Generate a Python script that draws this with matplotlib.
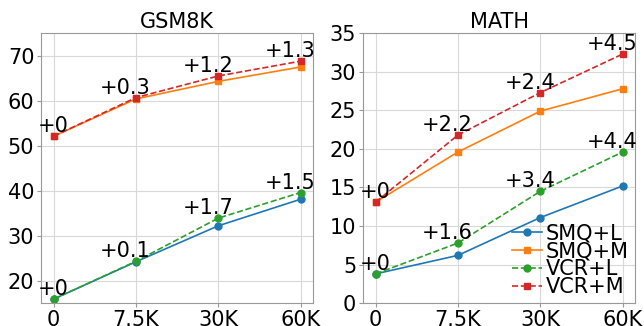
import numpy as np
import matplotlib.pyplot as plt

x_labels = ["0", "7.5K", "30K", "60K"]

gsm_smq_l = [15.9, 24.2, 32.2, 38.1]
gsm_smq_m = [52.1, 60.4, 64.3, 67.5]
gsm_vcr_l = [15.9, 24.3, 33.9, 39.6]
gsm_vcr_m = [52.1, 60.7, 65.5, 68.8]

math_smq_l = [3.8, 6.2, 11.1, 15.2]
math_smq_m = [13.1, 19.6, 24.9, 27.8]
math_vcr_l = [3.8, 7.8, 14.5, 19.6]
math_vcr_m = [13.1, 21.8, 27.3, 32.3]

gsm_gain_l = ["+0", "+0.1", "+1.7", "+1.5"]
gsm_gain_m = ["+0", "+0.3", "+1.2", "+1.3"]
math_gain_l = ["+0", "+1.6", "+3.4", "+4.4"]
math_gain_m = ["+0", "+2.2", "+2.4", "+4.5"]

fs = 15
plt.rcParams['font.size'] = fs

fig, (ax1, ax2) = plt.subplots(1, 2, figsize=(6.44, 3.26), dpi=100)
xs = np.arange(len(x_labels))

def panel(ax, title, smq_l, smq_m, vcr_l, vcr_m, gain_l, gain_m, ylim):
	ax.plot(xs, smq_l, '-o', color='tab:blue', lw=1.2, ms=5, label='SMQ+L')
	ax.plot(xs, smq_m, '-s', color='tab:orange', lw=1.2, ms=5, label='SMQ+M')
	ax.plot(xs, vcr_l, '--o', color='tab:green', lw=1.2, ms=5, label='VCR+L')
	ax.plot(xs, vcr_m, '--s', color='tab:red', lw=1.2, ms=5, label='VCR+M')
	for i in range(len(xs)):
		ax.text(xs[i] + 0.18, vcr_l[i], gain_l[i], ha='right', va='bottom', fontsize=fs)
		ax.text(xs[i] + 0.18, vcr_m[i], gain_m[i], ha='right', va='bottom', fontsize=fs)
	ax.set_title(title, fontsize=fs, pad=4)
	ax.set_xticks(xs)
	ax.set_xticklabels(x_labels)
	ax.set_ylim(ylim)
	ax.grid(True, color='#d9d9d9', lw=0.8)
	ax.set_axisbelow(True)
	for s in ax.spines.values():
		s.set_color('#999999')
	ax.tick_params(colors='#999999', labelcolor='black', length=3, pad=2)

panel(ax1, 'GSM8K', gsm_smq_l, gsm_smq_m, gsm_vcr_l, gsm_vcr_m, gsm_gain_l, gsm_gain_m, (15, 75))
panel(ax2, 'MATH', math_smq_l, math_smq_m, math_vcr_l, math_vcr_m, math_gain_l, math_gain_m, (0, 35))
ax1.set_yticks([20, 30, 40, 50, 60, 70])
ax2.set_yticks([0, 5, 10, 15, 20, 25, 30, 35])

ax2.legend(loc='lower right', frameon=False, fontsize=fs, handlelength=1.4,
	handletextpad=0.2, labelspacing=-0.1, borderaxespad=0.1, borderpad=0.2)

plt.subplots_adjust(left=0.064, right=0.986, bottom=0.07, top=0.898, wspace=0.185)
plt.savefig('out.png', dpi=100)
